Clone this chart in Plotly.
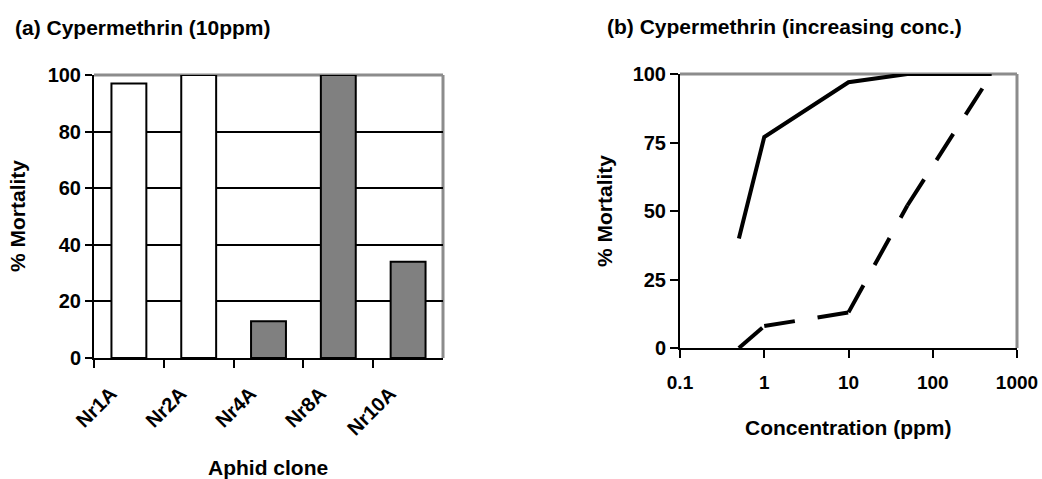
import plotly.graph_objects as go

# ---- data ----
clones = ["Nr1A", "Nr2A", "Nr4A", "Nr8A", "Nr10A"]
mortality_10ppm = [97, 100, 13, 100, 34]
bar_colors = ["#FFFFFF", "#FFFFFF", "#808080", "#808080", "#808080"]

conc = [0.5, 1, 10, 50, 500]
mort_solid = [40, 77, 97, 100, 100]
mort_dashed = [0, 8, 13, 52, 100]

left_yticks = [0, 20, 40, 60, 80, 100]
left_gridvals = [20, 40, 60, 80]
right_yticks = [0, 25, 50, 75, 100]
right_xticks = [0.1, 1, 10, 100, 1000]
right_xticklabels = ["0.1", "1", "10", "100", "1000"]

W, H = 1042, 479
FONT = "Liberation Sans, Arial, sans-serif"
FS = 20
FT = 21

def px_x(v):
    return v / W

def px_y(v):
    return 1 - v / H

fig = go.Figure()

fig.add_trace(go.Bar(
    x=clones, y=mortality_10ppm, width=0.5,
    marker=dict(color=bar_colors, line=dict(color="black", width=2)),
    xaxis="x", yaxis="y", showlegend=False,
))

fig.add_trace(go.Scatter(
    x=conc, y=mort_solid, mode="lines",
    line=dict(color="black", width=4),
    xaxis="x2", yaxis="y2", showlegend=False,
))
# dashed series: drawn segment by segment so the dash pattern restarts at each point
for i in range(len(conc) - 1):
    fig.add_trace(go.Scatter(
        x=conc[i:i + 2], y=mort_dashed[i:i + 2], mode="lines",
        line=dict(color="black", width=4, dash="31px,23px"),
        xaxis="x2", yaxis="y2", showlegend=False,
    ))

def tf(size=FS):
    return dict(family=FONT, size=size, color="black", weight="bold")

common = dict(automargin=False)

fig.update_layout(
    width=W, height=H,
    margin=dict(l=0, r=0, t=0, b=0),
    paper_bgcolor="white", plot_bgcolor="white",
    font=dict(family=FONT, size=FS, color="black"),
    bargap=0.5,
    hovermode=False,
    xaxis=dict(
        domain=[px_x(94), px_x(443)], anchor="y",
        type="category", range=[-0.5, 4.5],
        tickson="boundaries", ticks="outside", ticklen=8, tickwidth=2, tickcolor="black",
        showline=True, linecolor="black", linewidth=2,
        showgrid=False, tickangle=-45,
        ticklabelshift=-18, ticklabelstandoff=14,
        tickfont=tf(), **common,
    ),
    yaxis=dict(
        domain=[px_y(358), px_y(75)], anchor="x",
        range=[0, 100], tickvals=left_yticks,
        ticks="outside", ticklen=7, tickwidth=2, tickcolor="black",
        showline=True, linecolor="black", linewidth=2,
        showgrid=False, zeroline=False,
        minor=dict(tickvals=left_gridvals, showgrid=True, gridcolor="black",
                   gridwidth=2, ticks=""),
        tickfont=tf(), **common,
    ),
    xaxis2=dict(
        domain=[px_x(680), px_x(1017)], anchor="y2",
        type="log", range=[-1, 3],
        tickvals=right_xticks, ticktext=right_xticklabels,
        ticks="outside", ticklen=8, tickwidth=2, tickcolor="black",
        showline=True, linecolor="black", linewidth=2,
        showgrid=False, zeroline=False,
        tickfont=tf(19), ticklabelstandoff=8, **common,
    ),
    yaxis2=dict(
        domain=[px_y(348), px_y(74)], anchor="x2",
        range=[0, 100], tickvals=right_yticks,
        ticks="outside", ticklen=8, tickwidth=2, tickcolor="black",
        showline=True, linecolor="black", linewidth=2,
        showgrid=False, zeroline=False,
        tickfont=tf(), **common,
    ),
    shapes=[
        dict(type="line", xref="x domain", yref="y domain", x0=0, x1=1, y0=1, y1=1,
             line=dict(color="#8c8c8c", width=3), layer="below"),
        dict(type="line", xref="x domain", yref="y domain", x0=1, x1=1, y0=0, y1=1,
             line=dict(color="#8c8c8c", width=3), layer="below"),
        dict(type="line", xref="x2 domain", yref="y2 domain", x0=0, x1=1, y0=1, y1=1,
             line=dict(color="#8c8c8c", width=3), layer="below"),
        dict(type="line", xref="x2 domain", yref="y2 domain", x0=1, x1=1, y0=0, y1=1,
             line=dict(color="#8c8c8c", width=3), layer="below"),
    ],
    annotations=[
        dict(text="<b>(a) Cypermethrin (10ppm)</b>", xref="paper", yref="paper",
             x=px_x(13), y=px_y(28), xanchor="left", yanchor="middle", showarrow=False,
             font=dict(family=FONT, size=FT, color="black")),
        dict(text="<b>(b) Cypermethrin (increasing conc.)</b>", xref="paper", yref="paper",
             x=px_x(605), y=px_y(27), xanchor="left", yanchor="middle", showarrow=False,
             font=dict(family=FONT, size=FT, color="black")),
        dict(text="<b>Aphid clone</b>", xref="paper", yref="paper",
             x=px_x(268), y=px_y(467), xanchor="center", yanchor="middle", showarrow=False,
             font=dict(family=FONT, size=FT, color="black")),
        dict(text="<b>Concentration (ppm)</b>", xref="paper", yref="paper",
             x=px_x(848), y=px_y(427), xanchor="center", yanchor="middle", showarrow=False,
             font=dict(family=FONT, size=FT, color="black")),
        dict(text="<b>% Mortality</b>", xref="paper", yref="paper", textangle=-90,
             x=px_x(18), y=px_y(216), xanchor="center", yanchor="middle", showarrow=False,
             font=dict(family=FONT, size=FT, color="black")),
        dict(text="<b>% Mortality</b>", xref="paper", yref="paper", textangle=-90,
             x=px_x(604), y=px_y(211), xanchor="center", yanchor="middle", showarrow=False,
             font=dict(family=FONT, size=FT, color="black")),
    ],
)

fig.write_html(
    "out.html",
    config={"displayModeBar": False},
    post_script="document.body.style.margin='0';document.body.style.overflow='hidden';",
)
